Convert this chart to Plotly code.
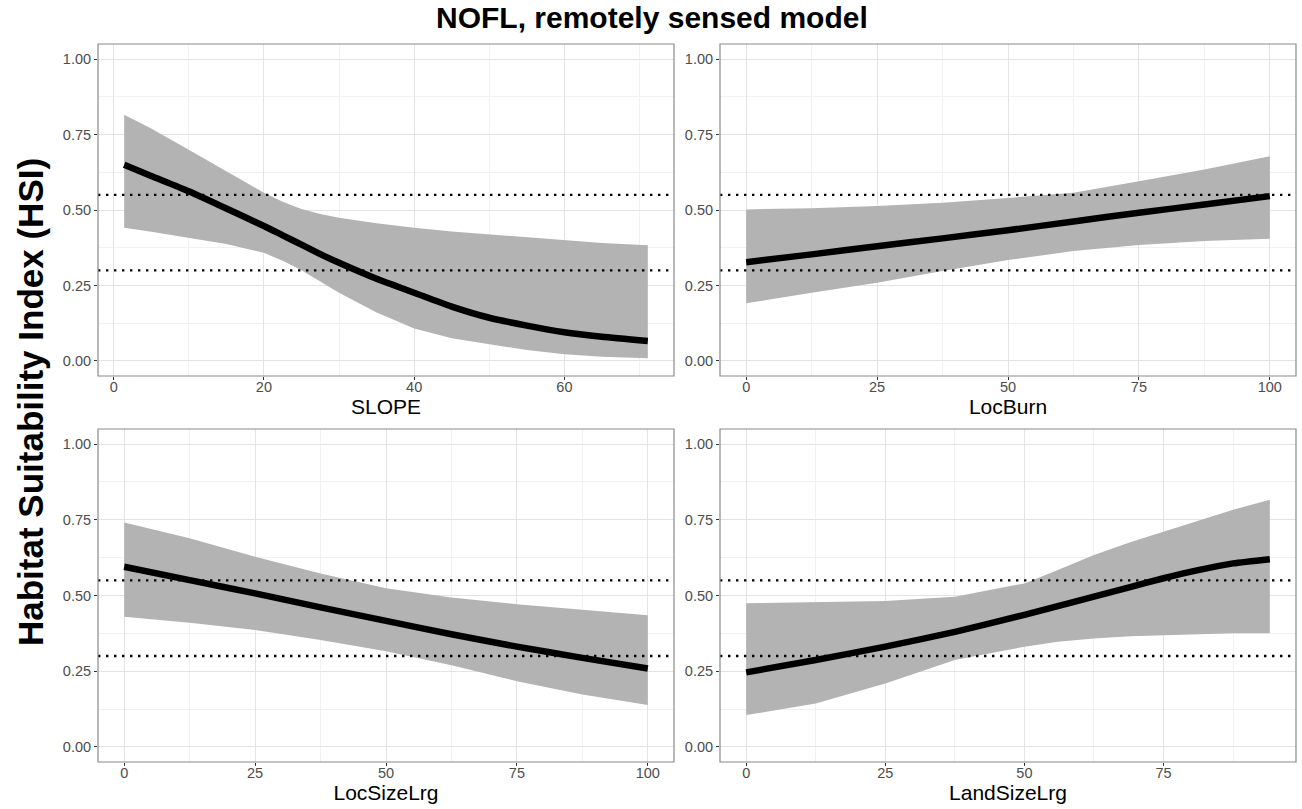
import plotly.graph_objects as go

# ---------------- data ----------------
slope_x = [1.4, 5, 10, 15, 20, 22.5, 25, 27.5, 30, 35, 40, 45, 50, 55, 60, 65, 71.1]
slope_fit = [0.650, 0.613, 0.562, 0.505, 0.447, 0.416, 0.385, 0.354, 0.325, 0.272, 0.226, 0.180, 0.143, 0.117, 0.095, 0.080, 0.066]
slope_hi = [0.816, 0.770, 0.700, 0.628, 0.557, 0.527, 0.503, 0.487, 0.474, 0.456, 0.441, 0.429, 0.419, 0.409, 0.399, 0.391, 0.383]
slope_lo = [0.441, 0.428, 0.408, 0.387, 0.358, 0.332, 0.300, 0.263, 0.226, 0.160, 0.107, 0.075, 0.055, 0.036, 0.022, 0.014, 0.009]

burn_x = [0, 12.5, 25, 37.5, 50, 62.5, 75, 87.5, 100]
burn_fit = [0.327, 0.353, 0.380, 0.406, 0.433, 0.462, 0.491, 0.518, 0.546]
burn_hi = [0.502, 0.506, 0.513, 0.524, 0.540, 0.557, 0.595, 0.634, 0.678]
burn_lo = [0.191, 0.226, 0.259, 0.298, 0.334, 0.364, 0.384, 0.397, 0.405]

locsize_x = [0, 12.5, 25, 37.5, 50, 62.5, 75, 87.5, 100]
locsize_fit = [0.595, 0.551, 0.507, 0.461, 0.416, 0.372, 0.331, 0.294, 0.259]
locsize_hi = [0.741, 0.689, 0.628, 0.573, 0.524, 0.493, 0.471, 0.452, 0.435]
locsize_lo = [0.430, 0.410, 0.386, 0.353, 0.316, 0.270, 0.217, 0.173, 0.138]

land_x = [0, 12.5, 25, 37.5, 50, 56, 62.5, 69, 75, 81, 87.5, 94.1]
land_fit = [0.246, 0.287, 0.331, 0.380, 0.436, 0.465, 0.496, 0.528, 0.557, 0.583, 0.606, 0.620]
land_hi = [0.474, 0.477, 0.482, 0.496, 0.540, 0.584, 0.634, 0.676, 0.711, 0.746, 0.783, 0.816]
land_lo = [0.105, 0.143, 0.209, 0.287, 0.331, 0.347, 0.358, 0.365, 0.369, 0.372, 0.375, 0.375]

thresholds = [0.55, 0.30]
x_titles = ["SLOPE", "LocBurn", "LocSizeLrg", "LandSizeLrg"]
y_ticks = [0.0, 0.25, 0.5, 0.75, 1.0]
y_ticktext = ["0.00", "0.25", "0.50", "0.75", "1.00"]
title_text = "NOFL, remotely sensed model"
y_title = "Habitat Suitability Index (HSI)"

panels = [
    (slope_x, slope_fit, slope_hi, slope_lo, [0, 20, 40, 60], 10),
    (burn_x, burn_fit, burn_hi, burn_lo, [0, 25, 50, 75, 100], 12.5),
    (locsize_x, locsize_fit, locsize_hi, locsize_lo, [0, 25, 50, 75, 100], 12.5),
    (land_x, land_fit, land_hi, land_lo, [0, 25, 50, 75], 12.5),
]

# ---------------- layout geometry ----------------
W, H = 1302, 809
xdoms = [[98 / W, 674 / W], [720 / W, 1296 / W]]
ydoms = [[1 - 376 / H, 1 - 44 / H], [1 - 762 / H, 1 - 429 / H]]

FONT = "Liberation Sans, Arial, Helvetica, sans-serif"
RIBBON = "#B3B3B3"
BORDER = "#8A8A8A"
GRID = "#E3E3E3"
MINOR = "#F1F1F1"

fig = go.Figure()
layout = dict(
    width=W, height=H,
    margin=dict(l=0, r=0, t=0, b=0),
    paper_bgcolor="white", plot_bgcolor="white",
    showlegend=False,
    font=dict(family=FONT, color="#000000"),
)
shapes = []
annotations = []

for i, (px, fit, hi, lo, xt, minor_d) in enumerate(panels):
    r, c = divmod(i, 2)
    n = i + 1
    xa = "x" if n == 1 else f"x{n}"
    ya = "y" if n == 1 else f"y{n}"
    # ribbon
    fig.add_trace(go.Scatter(
        x=list(px) + list(px)[::-1], y=list(hi) + list(lo)[::-1],
        fill="toself", fillcolor=RIBBON, mode="lines",
        line=dict(width=0, color=RIBBON), hoverinfo="skip",
        xaxis=xa, yaxis=ya,
    ))
    # fitted line
    fig.add_trace(go.Scatter(
        x=px, y=fit, mode="lines", line=dict(color="black", width=6.5, shape="spline", smoothing=0.6),
        xaxis=xa, yaxis=ya,
    ))
    dmin, dmax = min(px), max(px)
    pad = 0.05 * (dmax - dmin)
    axis_common = dict(
        showline=False, zeroline=False,
        ticks="outside", ticklen=3, tickwidth=1, tickcolor="#333333",
        tickfont=dict(family=FONT, size=14.5, color="#4D4D4D"),
        showgrid=True, gridcolor=GRID, gridwidth=1,
        mirror=False,
    )
    layout["xaxis" if n == 1 else f"xaxis{n}"] = dict(
        axis_common,
        domain=xdoms[c], anchor=ya,
        range=[dmin - pad, dmax + pad],
        tickmode="array", tickvals=xt, ticktext=[str(v) for v in xt],
        ticklabelstandoff=-5,
        minor=dict(showgrid=True, gridcolor=MINOR, gridwidth=0.8, dtick=minor_d, tick0=0, ticks=""),
        title=dict(text=x_titles[i], font=dict(family=FONT, size=21, color="#000000"), standoff=0),
    )
    layout["yaxis" if n == 1 else f"yaxis{n}"] = dict(
        axis_common,
        domain=ydoms[r], anchor=xa,
        range=[-0.05, 1.05],
        tickmode="array", tickvals=y_ticks, ticktext=y_ticktext,
        minor=dict(showgrid=True, gridcolor=MINOR, gridwidth=0.8, dtick=0.125, tick0=0, ticks=""),
    )
    # threshold dotted lines
    for t in thresholds:
        shapes.append(dict(
            type="line", xref=f"{xa} domain", yref=ya, x0=0, x1=1, y0=t, y1=t,
            line=dict(color="black", width=2.4, dash="2.4px,5.6px"), layer="above",
        ))
    # panel border
    shapes.append(dict(
        type="rect", xref=f"{xa} domain", yref=f"{ya} domain", x0=0, x1=1, y0=0, y1=1,
        line=dict(color=BORDER, width=1.2), fillcolor="rgba(0,0,0,0)", layer="above",
    ))

annotations.append(dict(
    text=f"<b>{title_text}</b>", x=652 / W, y=1 - 17 / H, xref="paper", yref="paper",
    xanchor="center", yanchor="middle", showarrow=False,
    font=dict(family=FONT, size=30, color="#000000"),
))
annotations.append(dict(
    text=f"<b>{y_title}</b>", x=30 / W, y=1 - 402 / H, xref="paper", yref="paper",
    xanchor="center", yanchor="middle", showarrow=False, textangle=-90,
    font=dict(family=FONT, size=35, color="#000000"),
))

layout["shapes"] = shapes
layout["annotations"] = annotations
fig.update_layout(**layout)
fig.write_html("out.html")
